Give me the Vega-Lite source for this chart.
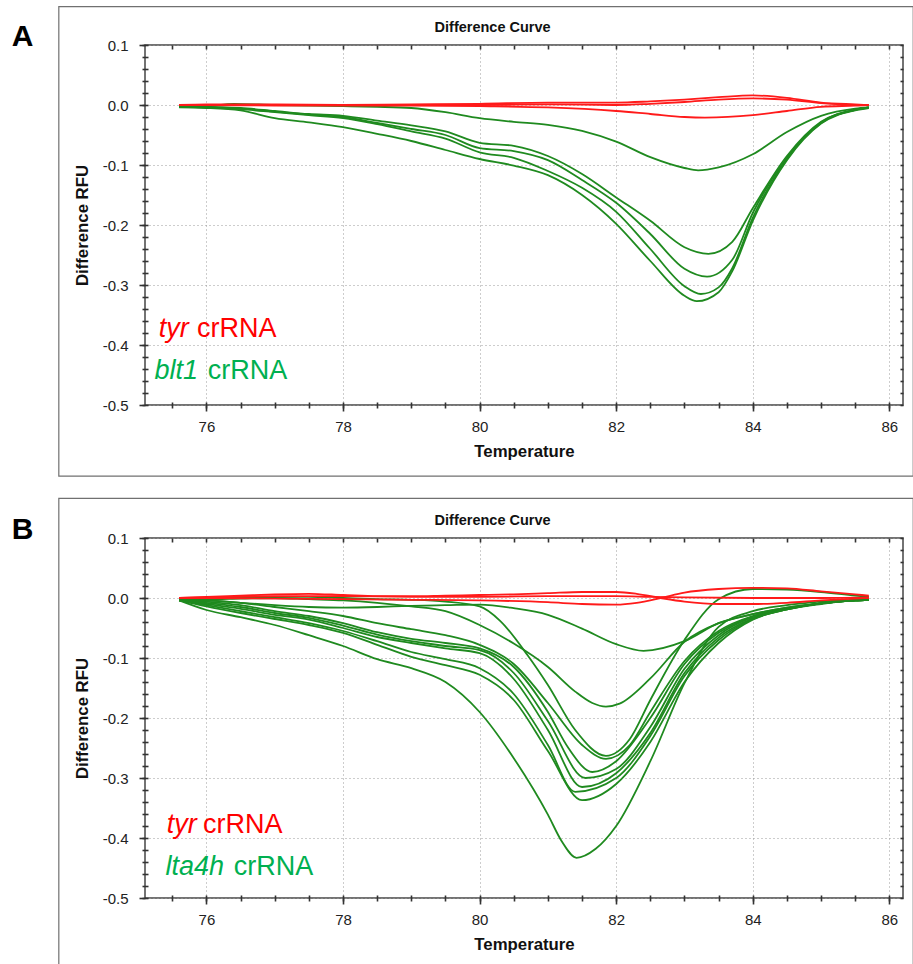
{
  "$schema": "https://vega.github.io/schema/vega-lite/v6.json",
  "background": "white",
  "padding": {"left": 11, "top": 5, "right": 0, "bottom": 0},
  "spacing": 19,
  "config": {
    "view": {"stroke": "#454545", "strokeWidth": 1.5},
    "font": "Liberation Sans",
    "axis": {
      "labelFont": "Liberation Sans", "titleFont": "Liberation Sans",
      "labelFontSize": 15, "labelColor": "#222222",
      "titleFontSize": 16.8, "titleFontWeight": "bold", "titleColor": "#111111",
      "domain": false, "tickColor": "#333333", "tickWidth": 1.6,
      "gridColor": "#9a9a9a", "gridDash": [1, 3], "gridWidth": 1
    }
  },
  "datasets": {
    "frameA": [{"x1": 73.838, "x2": 86.35, "y1": 0.1638, "y2": -0.6187}],
    "frameB": [{"x1": 73.838, "x2": 86.35, "y1": 0.166, "y2": -0.62}],
    "tagA": [{"label": "A", "T": 73.15, "RFU": 0.0988}],
    "tagB": [{"label": "B", "T": 73.15, "RFU": 0.0988}],
    "titleA": [{"label": "Difference Curve", "T": 80.19, "RFU": 0.1215}],
    "titleB": [{"label": "Difference Curve", "T": 80.19, "RFU": 0.1225}],
    "geneA": [{"label": "tyr", "kind": "tyr", "T": 75.30, "RFU": -0.386}, {"label": "blt1", "kind": "target", "T": 75.24, "RFU": -0.456}],
    "plainA": [{"label": "crRNA", "kind": "tyr", "T": 75.86, "RFU": -0.386}, {"label": "crRNA", "kind": "target", "T": 76.02, "RFU": -0.456}],
    "geneB": [{"label": "tyr", "kind": "tyr", "T": 75.42, "RFU": -0.391}, {"label": "lta4h", "kind": "target", "T": 75.40, "RFU": -0.462}],
    "plainB": [{"label": "crRNA", "kind": "tyr", "T": 75.95, "RFU": -0.391}, {"label": "crRNA", "kind": "target", "T": 76.40, "RFU": -0.462}],
    "curvesA": [
      {"id":"A1","crRNA":"blt1","T":75.6,"RFU":-0.003},{"id":"A1","crRNA":"blt1","T":76,"RFU":-0.002},{"id":"A1","crRNA":"blt1","T":76.4,"RFU":0.002},{"id":"A1","crRNA":"blt1","T":77,"RFU":0.0},{"id":"A1","crRNA":"blt1","T":77.5,"RFU":-0.001},{"id":"A1","crRNA":"blt1","T":78,"RFU":-0.002},{"id":"A1","crRNA":"blt1","T":78.5,"RFU":-0.003},{"id":"A1","crRNA":"blt1","T":79,"RFU":-0.005},{"id":"A1","crRNA":"blt1","T":79.5,"RFU":-0.012},{"id":"A1","crRNA":"blt1","T":80,"RFU":-0.022},{"id":"A1","crRNA":"blt1","T":80.5,"RFU":-0.028},{"id":"A1","crRNA":"blt1","T":81,"RFU":-0.033},{"id":"A1","crRNA":"blt1","T":81.5,"RFU":-0.043},{"id":"A1","crRNA":"blt1","T":82,"RFU":-0.061},{"id":"A1","crRNA":"blt1","T":82.5,"RFU":-0.087},{"id":"A1","crRNA":"blt1","T":83,"RFU":-0.105},{"id":"A1","crRNA":"blt1","T":83.2,"RFU":-0.109},{"id":"A1","crRNA":"blt1","T":83.5,"RFU":-0.104},{"id":"A1","crRNA":"blt1","T":84,"RFU":-0.082},{"id":"A1","crRNA":"blt1","T":84.5,"RFU":-0.045},{"id":"A1","crRNA":"blt1","T":85,"RFU":-0.018},{"id":"A1","crRNA":"blt1","T":85.5,"RFU":-0.006},{"id":"A1","crRNA":"blt1","T":85.7,"RFU":-0.004},
      {"id":"A2","crRNA":"blt1","T":75.6,"RFU":-0.003},{"id":"A2","crRNA":"blt1","T":76,"RFU":-0.003},{"id":"A2","crRNA":"blt1","T":76.5,"RFU":-0.005},{"id":"A2","crRNA":"blt1","T":77,"RFU":-0.010},{"id":"A2","crRNA":"blt1","T":77.5,"RFU":-0.015},{"id":"A2","crRNA":"blt1","T":78,"RFU":-0.018},{"id":"A2","crRNA":"blt1","T":78.5,"RFU":-0.026},{"id":"A2","crRNA":"blt1","T":79,"RFU":-0.034},{"id":"A2","crRNA":"blt1","T":79.5,"RFU":-0.044},{"id":"A2","crRNA":"blt1","T":80,"RFU":-0.063},{"id":"A2","crRNA":"blt1","T":80.5,"RFU":-0.068},{"id":"A2","crRNA":"blt1","T":81,"RFU":-0.085},{"id":"A2","crRNA":"blt1","T":81.5,"RFU":-0.115},{"id":"A2","crRNA":"blt1","T":82,"RFU":-0.154},{"id":"A2","crRNA":"blt1","T":82.5,"RFU":-0.193},{"id":"A2","crRNA":"blt1","T":83,"RFU":-0.237},{"id":"A2","crRNA":"blt1","T":83.35,"RFU":-0.248},{"id":"A2","crRNA":"blt1","T":83.7,"RFU":-0.228},{"id":"A2","crRNA":"blt1","T":84,"RFU":-0.172},{"id":"A2","crRNA":"blt1","T":84.5,"RFU":-0.085},{"id":"A2","crRNA":"blt1","T":85,"RFU":-0.028},{"id":"A2","crRNA":"blt1","T":85.5,"RFU":-0.008},{"id":"A2","crRNA":"blt1","T":85.7,"RFU":-0.004},
      {"id":"A3","crRNA":"blt1","T":75.6,"RFU":-0.003},{"id":"A3","crRNA":"blt1","T":76,"RFU":-0.004},{"id":"A3","crRNA":"blt1","T":76.5,"RFU":-0.006},{"id":"A3","crRNA":"blt1","T":77,"RFU":-0.011},{"id":"A3","crRNA":"blt1","T":77.5,"RFU":-0.016},{"id":"A3","crRNA":"blt1","T":78,"RFU":-0.020},{"id":"A3","crRNA":"blt1","T":78.5,"RFU":-0.030},{"id":"A3","crRNA":"blt1","T":79,"RFU":-0.040},{"id":"A3","crRNA":"blt1","T":79.5,"RFU":-0.050},{"id":"A3","crRNA":"blt1","T":80,"RFU":-0.072},{"id":"A3","crRNA":"blt1","T":80.5,"RFU":-0.077},{"id":"A3","crRNA":"blt1","T":81,"RFU":-0.092},{"id":"A3","crRNA":"blt1","T":81.5,"RFU":-0.125},{"id":"A3","crRNA":"blt1","T":82,"RFU":-0.163},{"id":"A3","crRNA":"blt1","T":82.5,"RFU":-0.215},{"id":"A3","crRNA":"blt1","T":83,"RFU":-0.273},{"id":"A3","crRNA":"blt1","T":83.33,"RFU":-0.286},{"id":"A3","crRNA":"blt1","T":83.7,"RFU":-0.258},{"id":"A3","crRNA":"blt1","T":84,"RFU":-0.180},{"id":"A3","crRNA":"blt1","T":84.5,"RFU":-0.088},{"id":"A3","crRNA":"blt1","T":85,"RFU":-0.029},{"id":"A3","crRNA":"blt1","T":85.5,"RFU":-0.008},{"id":"A3","crRNA":"blt1","T":85.7,"RFU":-0.004},
      {"id":"A4","crRNA":"blt1","T":75.6,"RFU":-0.003},{"id":"A4","crRNA":"blt1","T":76,"RFU":-0.004},{"id":"A4","crRNA":"blt1","T":76.5,"RFU":-0.007},{"id":"A4","crRNA":"blt1","T":77,"RFU":-0.012},{"id":"A4","crRNA":"blt1","T":77.5,"RFU":-0.017},{"id":"A4","crRNA":"blt1","T":78,"RFU":-0.022},{"id":"A4","crRNA":"blt1","T":78.5,"RFU":-0.032},{"id":"A4","crRNA":"blt1","T":79,"RFU":-0.044},{"id":"A4","crRNA":"blt1","T":79.5,"RFU":-0.056},{"id":"A4","crRNA":"blt1","T":80,"RFU":-0.079},{"id":"A4","crRNA":"blt1","T":80.5,"RFU":-0.088},{"id":"A4","crRNA":"blt1","T":81,"RFU":-0.110},{"id":"A4","crRNA":"blt1","T":81.5,"RFU":-0.138},{"id":"A4","crRNA":"blt1","T":82,"RFU":-0.178},{"id":"A4","crRNA":"blt1","T":82.5,"RFU":-0.240},{"id":"A4","crRNA":"blt1","T":83,"RFU":-0.302},{"id":"A4","crRNA":"blt1","T":83.24,"RFU":-0.315},{"id":"A4","crRNA":"blt1","T":83.5,"RFU":-0.304},{"id":"A4","crRNA":"blt1","T":83.7,"RFU":-0.272},{"id":"A4","crRNA":"blt1","T":84,"RFU":-0.188},{"id":"A4","crRNA":"blt1","T":84.5,"RFU":-0.090},{"id":"A4","crRNA":"blt1","T":85,"RFU":-0.030},{"id":"A4","crRNA":"blt1","T":85.5,"RFU":-0.008},{"id":"A4","crRNA":"blt1","T":85.7,"RFU":-0.004},
      {"id":"A5","crRNA":"blt1","T":75.6,"RFU":-0.004},{"id":"A5","crRNA":"blt1","T":76,"RFU":-0.005},{"id":"A5","crRNA":"blt1","T":76.5,"RFU":-0.009},{"id":"A5","crRNA":"blt1","T":77,"RFU":-0.022},{"id":"A5","crRNA":"blt1","T":77.5,"RFU":-0.029},{"id":"A5","crRNA":"blt1","T":78,"RFU":-0.037},{"id":"A5","crRNA":"blt1","T":78.5,"RFU":-0.048},{"id":"A5","crRNA":"blt1","T":79,"RFU":-0.060},{"id":"A5","crRNA":"blt1","T":79.5,"RFU":-0.075},{"id":"A5","crRNA":"blt1","T":80,"RFU":-0.090},{"id":"A5","crRNA":"blt1","T":80.5,"RFU":-0.101},{"id":"A5","crRNA":"blt1","T":81,"RFU":-0.117},{"id":"A5","crRNA":"blt1","T":81.5,"RFU":-0.150},{"id":"A5","crRNA":"blt1","T":82,"RFU":-0.198},{"id":"A5","crRNA":"blt1","T":82.5,"RFU":-0.260},{"id":"A5","crRNA":"blt1","T":83,"RFU":-0.318},{"id":"A5","crRNA":"blt1","T":83.18,"RFU":-0.327},{"id":"A5","crRNA":"blt1","T":83.5,"RFU":-0.312},{"id":"A5","crRNA":"blt1","T":83.7,"RFU":-0.277},{"id":"A5","crRNA":"blt1","T":84,"RFU":-0.193},{"id":"A5","crRNA":"blt1","T":84.5,"RFU":-0.092},{"id":"A5","crRNA":"blt1","T":85,"RFU":-0.031},{"id":"A5","crRNA":"blt1","T":85.5,"RFU":-0.009},{"id":"A5","crRNA":"blt1","T":85.7,"RFU":-0.005},
      {"id":"A6","crRNA":"tyr","T":75.6,"RFU":0.0},{"id":"A6","crRNA":"tyr","T":76,"RFU":0.001},{"id":"A6","crRNA":"tyr","T":77,"RFU":0.001},{"id":"A6","crRNA":"tyr","T":78,"RFU":0.0},{"id":"A6","crRNA":"tyr","T":79,"RFU":0.001},{"id":"A6","crRNA":"tyr","T":80,"RFU":0.002},{"id":"A6","crRNA":"tyr","T":81,"RFU":0.004},{"id":"A6","crRNA":"tyr","T":82,"RFU":0.004},{"id":"A6","crRNA":"tyr","T":82.5,"RFU":0.006},{"id":"A6","crRNA":"tyr","T":83,"RFU":0.009},{"id":"A6","crRNA":"tyr","T":83.5,"RFU":0.013},{"id":"A6","crRNA":"tyr","T":84,"RFU":0.016},{"id":"A6","crRNA":"tyr","T":84.5,"RFU":0.012},{"id":"A6","crRNA":"tyr","T":85,"RFU":0.004},{"id":"A6","crRNA":"tyr","T":85.5,"RFU":0.001},{"id":"A6","crRNA":"tyr","T":85.7,"RFU":0.0},
      {"id":"A7","crRNA":"tyr","T":75.6,"RFU":0.0},{"id":"A7","crRNA":"tyr","T":76,"RFU":0.0},{"id":"A7","crRNA":"tyr","T":77,"RFU":-0.001},{"id":"A7","crRNA":"tyr","T":78,"RFU":0.0},{"id":"A7","crRNA":"tyr","T":79,"RFU":0.0},{"id":"A7","crRNA":"tyr","T":80,"RFU":0.0},{"id":"A7","crRNA":"tyr","T":81,"RFU":0.001},{"id":"A7","crRNA":"tyr","T":82,"RFU":0.0},{"id":"A7","crRNA":"tyr","T":82.5,"RFU":0.002},{"id":"A7","crRNA":"tyr","T":83,"RFU":0.005},{"id":"A7","crRNA":"tyr","T":83.5,"RFU":0.009},{"id":"A7","crRNA":"tyr","T":84,"RFU":0.011},{"id":"A7","crRNA":"tyr","T":84.5,"RFU":0.009},{"id":"A7","crRNA":"tyr","T":85,"RFU":0.003},{"id":"A7","crRNA":"tyr","T":85.5,"RFU":0.0},{"id":"A7","crRNA":"tyr","T":85.7,"RFU":0.0},
      {"id":"A8","crRNA":"tyr","T":75.6,"RFU":0.0},{"id":"A8","crRNA":"tyr","T":76,"RFU":0.0},{"id":"A8","crRNA":"tyr","T":77,"RFU":0.0},{"id":"A8","crRNA":"tyr","T":78,"RFU":-0.001},{"id":"A8","crRNA":"tyr","T":79,"RFU":-0.001},{"id":"A8","crRNA":"tyr","T":80,"RFU":-0.002},{"id":"A8","crRNA":"tyr","T":81,"RFU":-0.004},{"id":"A8","crRNA":"tyr","T":82,"RFU":-0.010},{"id":"A8","crRNA":"tyr","T":82.5,"RFU":-0.015},{"id":"A8","crRNA":"tyr","T":83,"RFU":-0.020},{"id":"A8","crRNA":"tyr","T":83.3,"RFU":-0.021},{"id":"A8","crRNA":"tyr","T":84,"RFU":-0.017},{"id":"A8","crRNA":"tyr","T":84.5,"RFU":-0.010},{"id":"A8","crRNA":"tyr","T":85,"RFU":-0.003},{"id":"A8","crRNA":"tyr","T":85.5,"RFU":-0.001},{"id":"A8","crRNA":"tyr","T":85.7,"RFU":0.0}
    ],
    "curvesB": [
      {"id":"B1","crRNA":"lta4h","T":75.6,"RFU":-0.002},{"id":"B1","crRNA":"lta4h","T":76,"RFU":-0.004},{"id":"B1","crRNA":"lta4h","T":76.5,"RFU":-0.008},{"id":"B1","crRNA":"lta4h","T":77,"RFU":-0.012},{"id":"B1","crRNA":"lta4h","T":77.5,"RFU":-0.015},{"id":"B1","crRNA":"lta4h","T":78,"RFU":-0.016},{"id":"B1","crRNA":"lta4h","T":78.5,"RFU":-0.015},{"id":"B1","crRNA":"lta4h","T":79,"RFU":-0.013},{"id":"B1","crRNA":"lta4h","T":79.5,"RFU":-0.012},{"id":"B1","crRNA":"lta4h","T":80,"RFU":-0.011},{"id":"B1","crRNA":"lta4h","T":80.5,"RFU":-0.017},{"id":"B1","crRNA":"lta4h","T":81,"RFU":-0.028},{"id":"B1","crRNA":"lta4h","T":81.5,"RFU":-0.051},{"id":"B1","crRNA":"lta4h","T":82,"RFU":-0.077},{"id":"B1","crRNA":"lta4h","T":82.4,"RFU":-0.088},{"id":"B1","crRNA":"lta4h","T":83,"RFU":-0.072},{"id":"B1","crRNA":"lta4h","T":83.5,"RFU":-0.042},{"id":"B1","crRNA":"lta4h","T":84,"RFU":-0.027},{"id":"B1","crRNA":"lta4h","T":84.5,"RFU":-0.016},{"id":"B1","crRNA":"lta4h","T":85,"RFU":-0.009},{"id":"B1","crRNA":"lta4h","T":85.5,"RFU":-0.004},{"id":"B1","crRNA":"lta4h","T":85.7,"RFU":-0.003},
      {"id":"B2","crRNA":"lta4h","T":75.6,"RFU":-0.002},{"id":"B2","crRNA":"lta4h","T":76,"RFU":-0.002},{"id":"B2","crRNA":"lta4h","T":76.5,"RFU":-0.001},{"id":"B2","crRNA":"lta4h","T":77,"RFU":0.0},{"id":"B2","crRNA":"lta4h","T":77.5,"RFU":-0.002},{"id":"B2","crRNA":"lta4h","T":78,"RFU":-0.004},{"id":"B2","crRNA":"lta4h","T":78.5,"RFU":-0.008},{"id":"B2","crRNA":"lta4h","T":79,"RFU":-0.014},{"id":"B2","crRNA":"lta4h","T":79.5,"RFU":-0.022},{"id":"B2","crRNA":"lta4h","T":80,"RFU":-0.045},{"id":"B2","crRNA":"lta4h","T":80.5,"RFU":-0.076},{"id":"B2","crRNA":"lta4h","T":81,"RFU":-0.115},{"id":"B2","crRNA":"lta4h","T":81.4,"RFU":-0.156},{"id":"B2","crRNA":"lta4h","T":81.65,"RFU":-0.175},{"id":"B2","crRNA":"lta4h","T":81.85,"RFU":-0.181},{"id":"B2","crRNA":"lta4h","T":82.05,"RFU":-0.176},{"id":"B2","crRNA":"lta4h","T":82.5,"RFU":-0.134},{"id":"B2","crRNA":"lta4h","T":83,"RFU":-0.073},{"id":"B2","crRNA":"lta4h","T":83.5,"RFU":-0.042},{"id":"B2","crRNA":"lta4h","T":84,"RFU":-0.027},{"id":"B2","crRNA":"lta4h","T":84.5,"RFU":-0.016},{"id":"B2","crRNA":"lta4h","T":85,"RFU":-0.009},{"id":"B2","crRNA":"lta4h","T":85.5,"RFU":-0.004},{"id":"B2","crRNA":"lta4h","T":85.7,"RFU":-0.003},
      {"id":"B3","crRNA":"lta4h","T":75.6,"RFU":-0.002},{"id":"B3","crRNA":"lta4h","T":76,"RFU":-0.001},{"id":"B3","crRNA":"lta4h","T":76.5,"RFU":0.001},{"id":"B3","crRNA":"lta4h","T":77,"RFU":0.002},{"id":"B3","crRNA":"lta4h","T":77.5,"RFU":0.002},{"id":"B3","crRNA":"lta4h","T":78,"RFU":0.0},{"id":"B3","crRNA":"lta4h","T":78.5,"RFU":-0.002},{"id":"B3","crRNA":"lta4h","T":79,"RFU":-0.003},{"id":"B3","crRNA":"lta4h","T":79.5,"RFU":-0.006},{"id":"B3","crRNA":"lta4h","T":80,"RFU":-0.014},{"id":"B3","crRNA":"lta4h","T":80.3,"RFU":-0.038},{"id":"B3","crRNA":"lta4h","T":80.7,"RFU":-0.095},{"id":"B3","crRNA":"lta4h","T":81,"RFU":-0.145},{"id":"B3","crRNA":"lta4h","T":81.4,"RFU":-0.220},{"id":"B3","crRNA":"lta4h","T":81.85,"RFU":-0.263},{"id":"B3","crRNA":"lta4h","T":82.2,"RFU":-0.235},{"id":"B3","crRNA":"lta4h","T":82.5,"RFU":-0.170},{"id":"B3","crRNA":"lta4h","T":83,"RFU":-0.070},{"id":"B3","crRNA":"lta4h","T":83.5,"RFU":-0.002},{"id":"B3","crRNA":"lta4h","T":84,"RFU":0.015},{"id":"B3","crRNA":"lta4h","T":84.5,"RFU":0.014},{"id":"B3","crRNA":"lta4h","T":85,"RFU":0.010},{"id":"B3","crRNA":"lta4h","T":85.5,"RFU":0.004},{"id":"B3","crRNA":"lta4h","T":85.7,"RFU":0.002},
      {"id":"B4","crRNA":"lta4h","T":75.6,"RFU":-0.003},{"id":"B4","crRNA":"lta4h","T":76,"RFU":-0.004},{"id":"B4","crRNA":"lta4h","T":76.5,"RFU":-0.008},{"id":"B4","crRNA":"lta4h","T":77,"RFU":-0.015},{"id":"B4","crRNA":"lta4h","T":77.5,"RFU":-0.022},{"id":"B4","crRNA":"lta4h","T":78,"RFU":-0.030},{"id":"B4","crRNA":"lta4h","T":78.5,"RFU":-0.042},{"id":"B4","crRNA":"lta4h","T":79,"RFU":-0.052},{"id":"B4","crRNA":"lta4h","T":79.5,"RFU":-0.062},{"id":"B4","crRNA":"lta4h","T":80,"RFU":-0.078},{"id":"B4","crRNA":"lta4h","T":80.5,"RFU":-0.110},{"id":"B4","crRNA":"lta4h","T":81,"RFU":-0.175},{"id":"B4","crRNA":"lta4h","T":81.5,"RFU":-0.245},{"id":"B4","crRNA":"lta4h","T":81.85,"RFU":-0.268},{"id":"B4","crRNA":"lta4h","T":82.2,"RFU":-0.245},{"id":"B4","crRNA":"lta4h","T":82.5,"RFU":-0.190},{"id":"B4","crRNA":"lta4h","T":83,"RFU":-0.105},{"id":"B4","crRNA":"lta4h","T":83.5,"RFU":-0.055},{"id":"B4","crRNA":"lta4h","T":84,"RFU":-0.030},{"id":"B4","crRNA":"lta4h","T":84.5,"RFU":-0.018},{"id":"B4","crRNA":"lta4h","T":85,"RFU":-0.009},{"id":"B4","crRNA":"lta4h","T":85.5,"RFU":-0.004},{"id":"B4","crRNA":"lta4h","T":85.7,"RFU":-0.003},
      {"id":"B5","crRNA":"lta4h","T":75.6,"RFU":-0.003},{"id":"B5","crRNA":"lta4h","T":76,"RFU":-0.006},{"id":"B5","crRNA":"lta4h","T":76.5,"RFU":-0.012},{"id":"B5","crRNA":"lta4h","T":77,"RFU":-0.022},{"id":"B5","crRNA":"lta4h","T":77.5,"RFU":-0.030},{"id":"B5","crRNA":"lta4h","T":78,"RFU":-0.042},{"id":"B5","crRNA":"lta4h","T":78.5,"RFU":-0.057},{"id":"B5","crRNA":"lta4h","T":79,"RFU":-0.068},{"id":"B5","crRNA":"lta4h","T":79.5,"RFU":-0.075},{"id":"B5","crRNA":"lta4h","T":80,"RFU":-0.084},{"id":"B5","crRNA":"lta4h","T":80.5,"RFU":-0.115},{"id":"B5","crRNA":"lta4h","T":81,"RFU":-0.190},{"id":"B5","crRNA":"lta4h","T":81.3,"RFU":-0.250},{"id":"B5","crRNA":"lta4h","T":81.65,"RFU":-0.290},{"id":"B5","crRNA":"lta4h","T":82,"RFU":-0.272},{"id":"B5","crRNA":"lta4h","T":82.5,"RFU":-0.200},{"id":"B5","crRNA":"lta4h","T":83,"RFU":-0.110},{"id":"B5","crRNA":"lta4h","T":83.5,"RFU":-0.058},{"id":"B5","crRNA":"lta4h","T":84,"RFU":-0.031},{"id":"B5","crRNA":"lta4h","T":84.5,"RFU":-0.018},{"id":"B5","crRNA":"lta4h","T":85,"RFU":-0.009},{"id":"B5","crRNA":"lta4h","T":85.5,"RFU":-0.004},{"id":"B5","crRNA":"lta4h","T":85.7,"RFU":-0.003},
      {"id":"B6","crRNA":"lta4h","T":75.6,"RFU":-0.004},{"id":"B6","crRNA":"lta4h","T":76,"RFU":-0.008},{"id":"B6","crRNA":"lta4h","T":76.5,"RFU":-0.015},{"id":"B6","crRNA":"lta4h","T":77,"RFU":-0.025},{"id":"B6","crRNA":"lta4h","T":77.5,"RFU":-0.033},{"id":"B6","crRNA":"lta4h","T":78,"RFU":-0.046},{"id":"B6","crRNA":"lta4h","T":78.5,"RFU":-0.061},{"id":"B6","crRNA":"lta4h","T":79,"RFU":-0.072},{"id":"B6","crRNA":"lta4h","T":79.5,"RFU":-0.080},{"id":"B6","crRNA":"lta4h","T":80,"RFU":-0.087},{"id":"B6","crRNA":"lta4h","T":80.5,"RFU":-0.125},{"id":"B6","crRNA":"lta4h","T":81,"RFU":-0.205},{"id":"B6","crRNA":"lta4h","T":81.55,"RFU":-0.300},{"id":"B6","crRNA":"lta4h","T":82,"RFU":-0.285},{"id":"B6","crRNA":"lta4h","T":82.5,"RFU":-0.215},{"id":"B6","crRNA":"lta4h","T":83,"RFU":-0.118},{"id":"B6","crRNA":"lta4h","T":83.5,"RFU":-0.062},{"id":"B6","crRNA":"lta4h","T":84,"RFU":-0.032},{"id":"B6","crRNA":"lta4h","T":84.5,"RFU":-0.018},{"id":"B6","crRNA":"lta4h","T":85,"RFU":-0.009},{"id":"B6","crRNA":"lta4h","T":85.5,"RFU":-0.004},{"id":"B6","crRNA":"lta4h","T":85.7,"RFU":-0.003},
      {"id":"B7","crRNA":"lta4h","T":75.6,"RFU":-0.004},{"id":"B7","crRNA":"lta4h","T":76,"RFU":-0.010},{"id":"B7","crRNA":"lta4h","T":76.5,"RFU":-0.018},{"id":"B7","crRNA":"lta4h","T":77,"RFU":-0.028},{"id":"B7","crRNA":"lta4h","T":77.5,"RFU":-0.036},{"id":"B7","crRNA":"lta4h","T":78,"RFU":-0.050},{"id":"B7","crRNA":"lta4h","T":78.5,"RFU":-0.065},{"id":"B7","crRNA":"lta4h","T":79,"RFU":-0.075},{"id":"B7","crRNA":"lta4h","T":79.5,"RFU":-0.084},{"id":"B7","crRNA":"lta4h","T":80,"RFU":-0.092},{"id":"B7","crRNA":"lta4h","T":80.5,"RFU":-0.135},{"id":"B7","crRNA":"lta4h","T":81,"RFU":-0.220},{"id":"B7","crRNA":"lta4h","T":81.5,"RFU":-0.315},{"id":"B7","crRNA":"lta4h","T":82,"RFU":-0.292},{"id":"B7","crRNA":"lta4h","T":82.5,"RFU":-0.225},{"id":"B7","crRNA":"lta4h","T":83,"RFU":-0.125},{"id":"B7","crRNA":"lta4h","T":83.5,"RFU":-0.066},{"id":"B7","crRNA":"lta4h","T":84,"RFU":-0.034},{"id":"B7","crRNA":"lta4h","T":84.5,"RFU":-0.019},{"id":"B7","crRNA":"lta4h","T":85,"RFU":-0.009},{"id":"B7","crRNA":"lta4h","T":85.5,"RFU":-0.004},{"id":"B7","crRNA":"lta4h","T":85.7,"RFU":-0.003},
      {"id":"B8","crRNA":"lta4h","T":75.6,"RFU":-0.004},{"id":"B8","crRNA":"lta4h","T":76,"RFU":-0.012},{"id":"B8","crRNA":"lta4h","T":76.5,"RFU":-0.022},{"id":"B8","crRNA":"lta4h","T":77,"RFU":-0.032},{"id":"B8","crRNA":"lta4h","T":77.5,"RFU":-0.042},{"id":"B8","crRNA":"lta4h","T":78,"RFU":-0.055},{"id":"B8","crRNA":"lta4h","T":78.5,"RFU":-0.072},{"id":"B8","crRNA":"lta4h","T":79,"RFU":-0.090},{"id":"B8","crRNA":"lta4h","T":79.5,"RFU":-0.102},{"id":"B8","crRNA":"lta4h","T":80,"RFU":-0.117},{"id":"B8","crRNA":"lta4h","T":80.5,"RFU":-0.160},{"id":"B8","crRNA":"lta4h","T":81,"RFU":-0.245},{"id":"B8","crRNA":"lta4h","T":81.4,"RFU":-0.323},{"id":"B8","crRNA":"lta4h","T":82,"RFU":-0.300},{"id":"B8","crRNA":"lta4h","T":82.5,"RFU":-0.230},{"id":"B8","crRNA":"lta4h","T":83,"RFU":-0.130},{"id":"B8","crRNA":"lta4h","T":83.5,"RFU":-0.070},{"id":"B8","crRNA":"lta4h","T":84,"RFU":-0.035},{"id":"B8","crRNA":"lta4h","T":84.5,"RFU":-0.019},{"id":"B8","crRNA":"lta4h","T":85,"RFU":-0.009},{"id":"B8","crRNA":"lta4h","T":85.5,"RFU":-0.004},{"id":"B8","crRNA":"lta4h","T":85.7,"RFU":-0.003},
      {"id":"B9","crRNA":"lta4h","T":75.6,"RFU":-0.004},{"id":"B9","crRNA":"lta4h","T":76,"RFU":-0.014},{"id":"B9","crRNA":"lta4h","T":76.5,"RFU":-0.025},{"id":"B9","crRNA":"lta4h","T":77,"RFU":-0.035},{"id":"B9","crRNA":"lta4h","T":77.5,"RFU":-0.045},{"id":"B9","crRNA":"lta4h","T":78,"RFU":-0.058},{"id":"B9","crRNA":"lta4h","T":78.5,"RFU":-0.078},{"id":"B9","crRNA":"lta4h","T":79,"RFU":-0.098},{"id":"B9","crRNA":"lta4h","T":79.5,"RFU":-0.112},{"id":"B9","crRNA":"lta4h","T":80,"RFU":-0.128},{"id":"B9","crRNA":"lta4h","T":80.5,"RFU":-0.170},{"id":"B9","crRNA":"lta4h","T":81,"RFU":-0.255},{"id":"B9","crRNA":"lta4h","T":81.5,"RFU":-0.337},{"id":"B9","crRNA":"lta4h","T":82,"RFU":-0.310},{"id":"B9","crRNA":"lta4h","T":82.5,"RFU":-0.240},{"id":"B9","crRNA":"lta4h","T":83,"RFU":-0.140},{"id":"B9","crRNA":"lta4h","T":83.5,"RFU":-0.075},{"id":"B9","crRNA":"lta4h","T":84,"RFU":-0.036},{"id":"B9","crRNA":"lta4h","T":84.5,"RFU":-0.019},{"id":"B9","crRNA":"lta4h","T":85,"RFU":-0.010},{"id":"B9","crRNA":"lta4h","T":85.5,"RFU":-0.004},{"id":"B9","crRNA":"lta4h","T":85.7,"RFU":-0.003},
      {"id":"B10","crRNA":"lta4h","T":75.6,"RFU":-0.004},{"id":"B10","crRNA":"lta4h","T":76,"RFU":-0.020},{"id":"B10","crRNA":"lta4h","T":76.5,"RFU":-0.032},{"id":"B10","crRNA":"lta4h","T":77,"RFU":-0.045},{"id":"B10","crRNA":"lta4h","T":77.5,"RFU":-0.062},{"id":"B10","crRNA":"lta4h","T":78,"RFU":-0.080},{"id":"B10","crRNA":"lta4h","T":78.5,"RFU":-0.102},{"id":"B10","crRNA":"lta4h","T":79,"RFU":-0.117},{"id":"B10","crRNA":"lta4h","T":79.5,"RFU":-0.140},{"id":"B10","crRNA":"lta4h","T":80,"RFU":-0.190},{"id":"B10","crRNA":"lta4h","T":80.5,"RFU":-0.267},{"id":"B10","crRNA":"lta4h","T":81,"RFU":-0.361},{"id":"B10","crRNA":"lta4h","T":81.2,"RFU":-0.405},{"id":"B10","crRNA":"lta4h","T":81.42,"RFU":-0.433},{"id":"B10","crRNA":"lta4h","T":81.7,"RFU":-0.418},{"id":"B10","crRNA":"lta4h","T":82,"RFU":-0.380},{"id":"B10","crRNA":"lta4h","T":82.5,"RFU":-0.272},{"id":"B10","crRNA":"lta4h","T":83,"RFU":-0.142},{"id":"B10","crRNA":"lta4h","T":83.5,"RFU":-0.048},{"id":"B10","crRNA":"lta4h","T":84,"RFU":-0.022},{"id":"B10","crRNA":"lta4h","T":84.5,"RFU":-0.012},{"id":"B10","crRNA":"lta4h","T":85,"RFU":-0.006},{"id":"B10","crRNA":"lta4h","T":85.5,"RFU":-0.003},{"id":"B10","crRNA":"lta4h","T":85.7,"RFU":-0.002},
      {"id":"B11","crRNA":"tyr","T":75.6,"RFU":0.0},{"id":"B11","crRNA":"tyr","T":76,"RFU":0.0},{"id":"B11","crRNA":"tyr","T":77,"RFU":-0.001},{"id":"B11","crRNA":"tyr","T":78,"RFU":-0.002},{"id":"B11","crRNA":"tyr","T":79,"RFU":-0.003},{"id":"B11","crRNA":"tyr","T":80,"RFU":-0.004},{"id":"B11","crRNA":"tyr","T":81,"RFU":-0.007},{"id":"B11","crRNA":"tyr","T":81.5,"RFU":-0.010},{"id":"B11","crRNA":"tyr","T":82,"RFU":-0.011},{"id":"B11","crRNA":"tyr","T":82.3,"RFU":-0.008},{"id":"B11","crRNA":"tyr","T":82.65,"RFU":0.0},{"id":"B11","crRNA":"tyr","T":83,"RFU":0.009},{"id":"B11","crRNA":"tyr","T":83.5,"RFU":0.015},{"id":"B11","crRNA":"tyr","T":84,"RFU":0.017},{"id":"B11","crRNA":"tyr","T":84.5,"RFU":0.016},{"id":"B11","crRNA":"tyr","T":85,"RFU":0.011},{"id":"B11","crRNA":"tyr","T":85.5,"RFU":0.006},{"id":"B11","crRNA":"tyr","T":85.7,"RFU":0.004},
      {"id":"B12","crRNA":"tyr","T":75.6,"RFU":0.0},{"id":"B12","crRNA":"tyr","T":76,"RFU":0.002},{"id":"B12","crRNA":"tyr","T":76.5,"RFU":0.004},{"id":"B12","crRNA":"tyr","T":77,"RFU":0.006},{"id":"B12","crRNA":"tyr","T":77.5,"RFU":0.007},{"id":"B12","crRNA":"tyr","T":78,"RFU":0.005},{"id":"B12","crRNA":"tyr","T":78.5,"RFU":0.003},{"id":"B12","crRNA":"tyr","T":79,"RFU":0.003},{"id":"B12","crRNA":"tyr","T":79.5,"RFU":0.004},{"id":"B12","crRNA":"tyr","T":80,"RFU":0.005},{"id":"B12","crRNA":"tyr","T":80.5,"RFU":0.006},{"id":"B12","crRNA":"tyr","T":81,"RFU":0.008},{"id":"B12","crRNA":"tyr","T":81.5,"RFU":0.010},{"id":"B12","crRNA":"tyr","T":82,"RFU":0.010},{"id":"B12","crRNA":"tyr","T":82.3,"RFU":0.007},{"id":"B12","crRNA":"tyr","T":82.65,"RFU":0.0},{"id":"B12","crRNA":"tyr","T":83,"RFU":-0.006},{"id":"B12","crRNA":"tyr","T":83.5,"RFU":-0.010},{"id":"B12","crRNA":"tyr","T":84,"RFU":-0.010},{"id":"B12","crRNA":"tyr","T":84.5,"RFU":-0.008},{"id":"B12","crRNA":"tyr","T":85,"RFU":-0.004},{"id":"B12","crRNA":"tyr","T":85.5,"RFU":-0.001},{"id":"B12","crRNA":"tyr","T":85.7,"RFU":0.0},
      {"id":"B13","crRNA":"tyr","T":75.6,"RFU":0.0},{"id":"B13","crRNA":"tyr","T":76,"RFU":0.001},{"id":"B13","crRNA":"tyr","T":77,"RFU":0.003},{"id":"B13","crRNA":"tyr","T":78,"RFU":0.003},{"id":"B13","crRNA":"tyr","T":79,"RFU":0.002},{"id":"B13","crRNA":"tyr","T":80,"RFU":0.002},{"id":"B13","crRNA":"tyr","T":81,"RFU":0.003},{"id":"B13","crRNA":"tyr","T":82,"RFU":0.003},{"id":"B13","crRNA":"tyr","T":82.5,"RFU":0.002},{"id":"B13","crRNA":"tyr","T":83,"RFU":0.001},{"id":"B13","crRNA":"tyr","T":84,"RFU":0.0},{"id":"B13","crRNA":"tyr","T":85,"RFU":0.0},{"id":"B13","crRNA":"tyr","T":85.7,"RFU":0.001}
    ]
  },
  "vconcat": [
    {
      "width": 758, "height": 360,
      "resolve": {"axis": {"x": "independent", "y": "independent"}},
      "layer": [
        {"data": {"name": "frameA"}, "mark": {"type": "rect", "filled": false, "color": "#707070", "strokeWidth": 1.2},
         "encoding": {
           "x": {"field": "x1", "type": "quantitative", "scale": {"domain": [75.1, 86.2], "nice": false, "zero": false},
                 "axis": {"orient": "bottom", "values": [75.5,76,76.5,77,77.5,78,78.5,79,79.5,80,80.5,81,81.5,82,82.5,83,83.5,84,84.5,85,85.5,86], "tickSize": 6, "offset": -3, "labels": false, "grid": false, "domain": false, "title": null}},
           "x2": {"field": "x2"},
           "y": {"field": "y1", "type": "quantitative", "scale": {"domain": [-0.5, 0.1], "nice": false, "zero": false},
                 "axis": {"orient": "left", "values": [-0.5,-0.48,-0.46,-0.44,-0.42,-0.4,-0.38,-0.36,-0.34,-0.32,-0.3,-0.28,-0.26,-0.24,-0.22,-0.2,-0.18,-0.16,-0.14,-0.12,-0.1,-0.08,-0.06,-0.04,-0.02,0,0.02,0.04,0.06,0.08,0.1], "tickSize": 6, "offset": -3, "labels": false, "grid": false, "domain": false, "title": null}},
           "y2": {"field": "y2"}}},
        {"data": {"name": "curvesA"}, "transform": [{"filter": "datum.crRNA != 'tyr'"}],
         "mark": {"type": "line", "interpolate": "monotone", "strokeWidth": 1.8, "color": "#1f8a1f"},
         "encoding": {
           "x": {"field": "T", "type": "quantitative", "scale": {"domain": [75.1, 86.2], "nice": false, "zero": false},
                 "axis": {"orient": "bottom", "values": [76,78,80,82,84,86], "tickSize": 6, "labelPadding": 8, "grid": true, "title": "Temperature", "titlePadding": 9, "labelFlush": false, "labelOverlap": false, "domain": false}},
           "y": {"field": "RFU", "type": "quantitative", "scale": {"domain": [-0.5, 0.1], "nice": false, "zero": false},
                 "axis": {"orient": "left", "values": [-0.5,-0.4,-0.3,-0.2,-0.1,0,0.1], "tickSize": 6, "labelPadding": 11, "grid": true, "title": "Difference RFU", "titlePadding": 11, "labelFlush": false, "labelOverlap": false, "domain": false,
                          "labelExpr": "datum.value < 0 ? '-' + format(-datum.value, '.1f') : format(datum.value, '.1f')"}},
           "detail": {"field": "id"}}},
        {"data": {"name": "curvesA"}, "transform": [{"filter": "datum.crRNA == 'tyr'"}],
         "mark": {"type": "line", "interpolate": "monotone", "strokeWidth": 1.8, "color": "#ff1a1a"},
         "encoding": {
           "x": {"field": "T", "type": "quantitative", "scale": {"domain": [75.1, 86.2], "nice": false, "zero": false}, "axis": null},
           "y": {"field": "RFU", "type": "quantitative", "scale": {"domain": [-0.5, 0.1], "nice": false, "zero": false}, "axis": null},
           "detail": {"field": "id"}}},
        {"data": {"name": "geneA"},
         "mark": {"type": "text", "font": "Liberation Sans", "fontStyle": "italic", "fontSize": 27, "align": "left", "baseline": "alphabetic"},
         "encoding": {
           "x": {"field": "T", "type": "quantitative", "scale": {"domain": [75.1, 86.2], "nice": false, "zero": false}, "axis": null},
           "y": {"field": "RFU", "type": "quantitative", "scale": {"domain": [-0.5, 0.1], "nice": false, "zero": false}, "axis": null},
           "text": {"field": "label"},
           "color": {"field": "kind", "type": "nominal", "scale": {"domain": ["tyr", "target"], "range": ["#ff0000", "#00b050"]}, "legend": null}}},
        {"data": {"name": "plainA"},
         "mark": {"type": "text", "font": "Liberation Sans", "fontSize": 27, "align": "left", "baseline": "alphabetic"},
         "encoding": {
           "x": {"field": "T", "type": "quantitative", "scale": {"domain": [75.1, 86.2], "nice": false, "zero": false}, "axis": null},
           "y": {"field": "RFU", "type": "quantitative", "scale": {"domain": [-0.5, 0.1], "nice": false, "zero": false}, "axis": null},
           "text": {"field": "label"},
           "color": {"field": "kind", "type": "nominal", "scale": {"domain": ["tyr", "target"], "range": ["#ff0000", "#00b050"]}, "legend": null}}},
        {"data": {"name": "titleA"},
         "mark": {"type": "text", "font": "Liberation Sans", "fontWeight": "bold", "fontSize": 14.5, "align": "center", "baseline": "alphabetic", "color": "#111111"},
         "encoding": {
           "x": {"field": "T", "type": "quantitative", "scale": {"domain": [75.1, 86.2], "nice": false, "zero": false},
                 "axis": {"orient": "top", "values": [75.5,76,76.5,77,77.5,78,78.5,79,79.5,80,80.5,81,81.5,82,82.5,83,83.5,84,84.5,85,85.5,86], "tickSize": 4, "offset": -4, "labels": false, "grid": false, "domain": false, "title": null}},
           "y": {"field": "RFU", "type": "quantitative", "scale": {"domain": [-0.5, 0.1], "nice": false, "zero": false},
                 "axis": {"orient": "right", "values": [-0.5,-0.48,-0.46,-0.44,-0.42,-0.4,-0.38,-0.36,-0.34,-0.32,-0.3,-0.28,-0.26,-0.24,-0.22,-0.2,-0.18,-0.16,-0.14,-0.12,-0.1,-0.08,-0.06,-0.04,-0.02,0,0.02,0.04,0.06,0.08,0.1], "tickSize": 3, "offset": -3, "labels": false, "grid": false, "domain": false, "title": null}},
           "text": {"field": "label"}}},
        {"data": {"name": "tagA"},
         "mark": {"type": "text", "font": "Liberation Sans", "fontWeight": "bold", "fontSize": 30, "align": "left", "baseline": "alphabetic", "color": "#000000"},
         "encoding": {
           "x": {"field": "T", "type": "quantitative", "scale": {"domain": [75.1, 86.2], "nice": false, "zero": false}, "axis": null},
           "y": {"field": "RFU", "type": "quantitative", "scale": {"domain": [-0.5, 0.1], "nice": false, "zero": false}, "axis": null},
           "text": {"field": "label"}}}
      ]
    },
    {
      "width": 758, "height": 360,
      "resolve": {"axis": {"x": "independent", "y": "independent"}},
      "layer": [
        {"data": {"name": "frameB"}, "mark": {"type": "rect", "filled": false, "color": "#707070", "strokeWidth": 1.2},
         "encoding": {
           "x": {"field": "x1", "type": "quantitative", "scale": {"domain": [75.1, 86.2], "nice": false, "zero": false},
                 "axis": {"orient": "bottom", "values": [75.5,76,76.5,77,77.5,78,78.5,79,79.5,80,80.5,81,81.5,82,82.5,83,83.5,84,84.5,85,85.5,86], "tickSize": 6, "offset": -3, "labels": false, "grid": false, "domain": false, "title": null}},
           "x2": {"field": "x2"},
           "y": {"field": "y1", "type": "quantitative", "scale": {"domain": [-0.5, 0.1], "nice": false, "zero": false},
                 "axis": {"orient": "left", "values": [-0.5,-0.48,-0.46,-0.44,-0.42,-0.4,-0.38,-0.36,-0.34,-0.32,-0.3,-0.28,-0.26,-0.24,-0.22,-0.2,-0.18,-0.16,-0.14,-0.12,-0.1,-0.08,-0.06,-0.04,-0.02,0,0.02,0.04,0.06,0.08,0.1], "tickSize": 6, "offset": -3, "labels": false, "grid": false, "domain": false, "title": null}},
           "y2": {"field": "y2"}}},
        {"data": {"name": "curvesB"}, "transform": [{"filter": "datum.crRNA != 'tyr'"}],
         "mark": {"type": "line", "interpolate": "monotone", "strokeWidth": 1.8, "color": "#1f8a1f"},
         "encoding": {
           "x": {"field": "T", "type": "quantitative", "scale": {"domain": [75.1, 86.2], "nice": false, "zero": false},
                 "axis": {"orient": "bottom", "values": [76,78,80,82,84,86], "tickSize": 6, "labelPadding": 8, "grid": true, "title": "Temperature", "titlePadding": 9, "labelFlush": false, "labelOverlap": false, "domain": false}},
           "y": {"field": "RFU", "type": "quantitative", "scale": {"domain": [-0.5, 0.1], "nice": false, "zero": false},
                 "axis": {"orient": "left", "values": [-0.5,-0.4,-0.3,-0.2,-0.1,0,0.1], "tickSize": 6, "labelPadding": 11, "grid": true, "title": "Difference RFU", "titlePadding": 11, "labelFlush": false, "labelOverlap": false, "domain": false,
                          "labelExpr": "datum.value < 0 ? '-' + format(-datum.value, '.1f') : format(datum.value, '.1f')"}},
           "detail": {"field": "id"}}},
        {"data": {"name": "curvesB"}, "transform": [{"filter": "datum.crRNA == 'tyr'"}],
         "mark": {"type": "line", "interpolate": "monotone", "strokeWidth": 1.8, "color": "#ff1a1a"},
         "encoding": {
           "x": {"field": "T", "type": "quantitative", "scale": {"domain": [75.1, 86.2], "nice": false, "zero": false}, "axis": null},
           "y": {"field": "RFU", "type": "quantitative", "scale": {"domain": [-0.5, 0.1], "nice": false, "zero": false}, "axis": null},
           "detail": {"field": "id"}}},
        {"data": {"name": "geneB"},
         "mark": {"type": "text", "font": "Liberation Sans", "fontStyle": "italic", "fontSize": 27, "align": "left", "baseline": "alphabetic"},
         "encoding": {
           "x": {"field": "T", "type": "quantitative", "scale": {"domain": [75.1, 86.2], "nice": false, "zero": false}, "axis": null},
           "y": {"field": "RFU", "type": "quantitative", "scale": {"domain": [-0.5, 0.1], "nice": false, "zero": false}, "axis": null},
           "text": {"field": "label"},
           "color": {"field": "kind", "type": "nominal", "scale": {"domain": ["tyr", "target"], "range": ["#ff0000", "#00b050"]}, "legend": null}}},
        {"data": {"name": "plainB"},
         "mark": {"type": "text", "font": "Liberation Sans", "fontSize": 27, "align": "left", "baseline": "alphabetic"},
         "encoding": {
           "x": {"field": "T", "type": "quantitative", "scale": {"domain": [75.1, 86.2], "nice": false, "zero": false}, "axis": null},
           "y": {"field": "RFU", "type": "quantitative", "scale": {"domain": [-0.5, 0.1], "nice": false, "zero": false}, "axis": null},
           "text": {"field": "label"},
           "color": {"field": "kind", "type": "nominal", "scale": {"domain": ["tyr", "target"], "range": ["#ff0000", "#00b050"]}, "legend": null}}},
        {"data": {"name": "titleB"},
         "mark": {"type": "text", "font": "Liberation Sans", "fontWeight": "bold", "fontSize": 14.5, "align": "center", "baseline": "alphabetic", "color": "#111111"},
         "encoding": {
           "x": {"field": "T", "type": "quantitative", "scale": {"domain": [75.1, 86.2], "nice": false, "zero": false},
                 "axis": {"orient": "top", "values": [75.5,76,76.5,77,77.5,78,78.5,79,79.5,80,80.5,81,81.5,82,82.5,83,83.5,84,84.5,85,85.5,86], "tickSize": 4, "offset": -4, "labels": false, "grid": false, "domain": false, "title": null}},
           "y": {"field": "RFU", "type": "quantitative", "scale": {"domain": [-0.5, 0.1], "nice": false, "zero": false},
                 "axis": {"orient": "right", "values": [-0.5,-0.48,-0.46,-0.44,-0.42,-0.4,-0.38,-0.36,-0.34,-0.32,-0.3,-0.28,-0.26,-0.24,-0.22,-0.2,-0.18,-0.16,-0.14,-0.12,-0.1,-0.08,-0.06,-0.04,-0.02,0,0.02,0.04,0.06,0.08,0.1], "tickSize": 3, "offset": -3, "labels": false, "grid": false, "domain": false, "title": null}},
           "text": {"field": "label"}}},
        {"data": {"name": "tagB"},
         "mark": {"type": "text", "font": "Liberation Sans", "fontWeight": "bold", "fontSize": 30, "align": "left", "baseline": "alphabetic", "color": "#000000"},
         "encoding": {
           "x": {"field": "T", "type": "quantitative", "scale": {"domain": [75.1, 86.2], "nice": false, "zero": false}, "axis": null},
           "y": {"field": "RFU", "type": "quantitative", "scale": {"domain": [-0.5, 0.1], "nice": false, "zero": false}, "axis": null},
           "text": {"field": "label"}}}
      ]
    }
  ]
}
